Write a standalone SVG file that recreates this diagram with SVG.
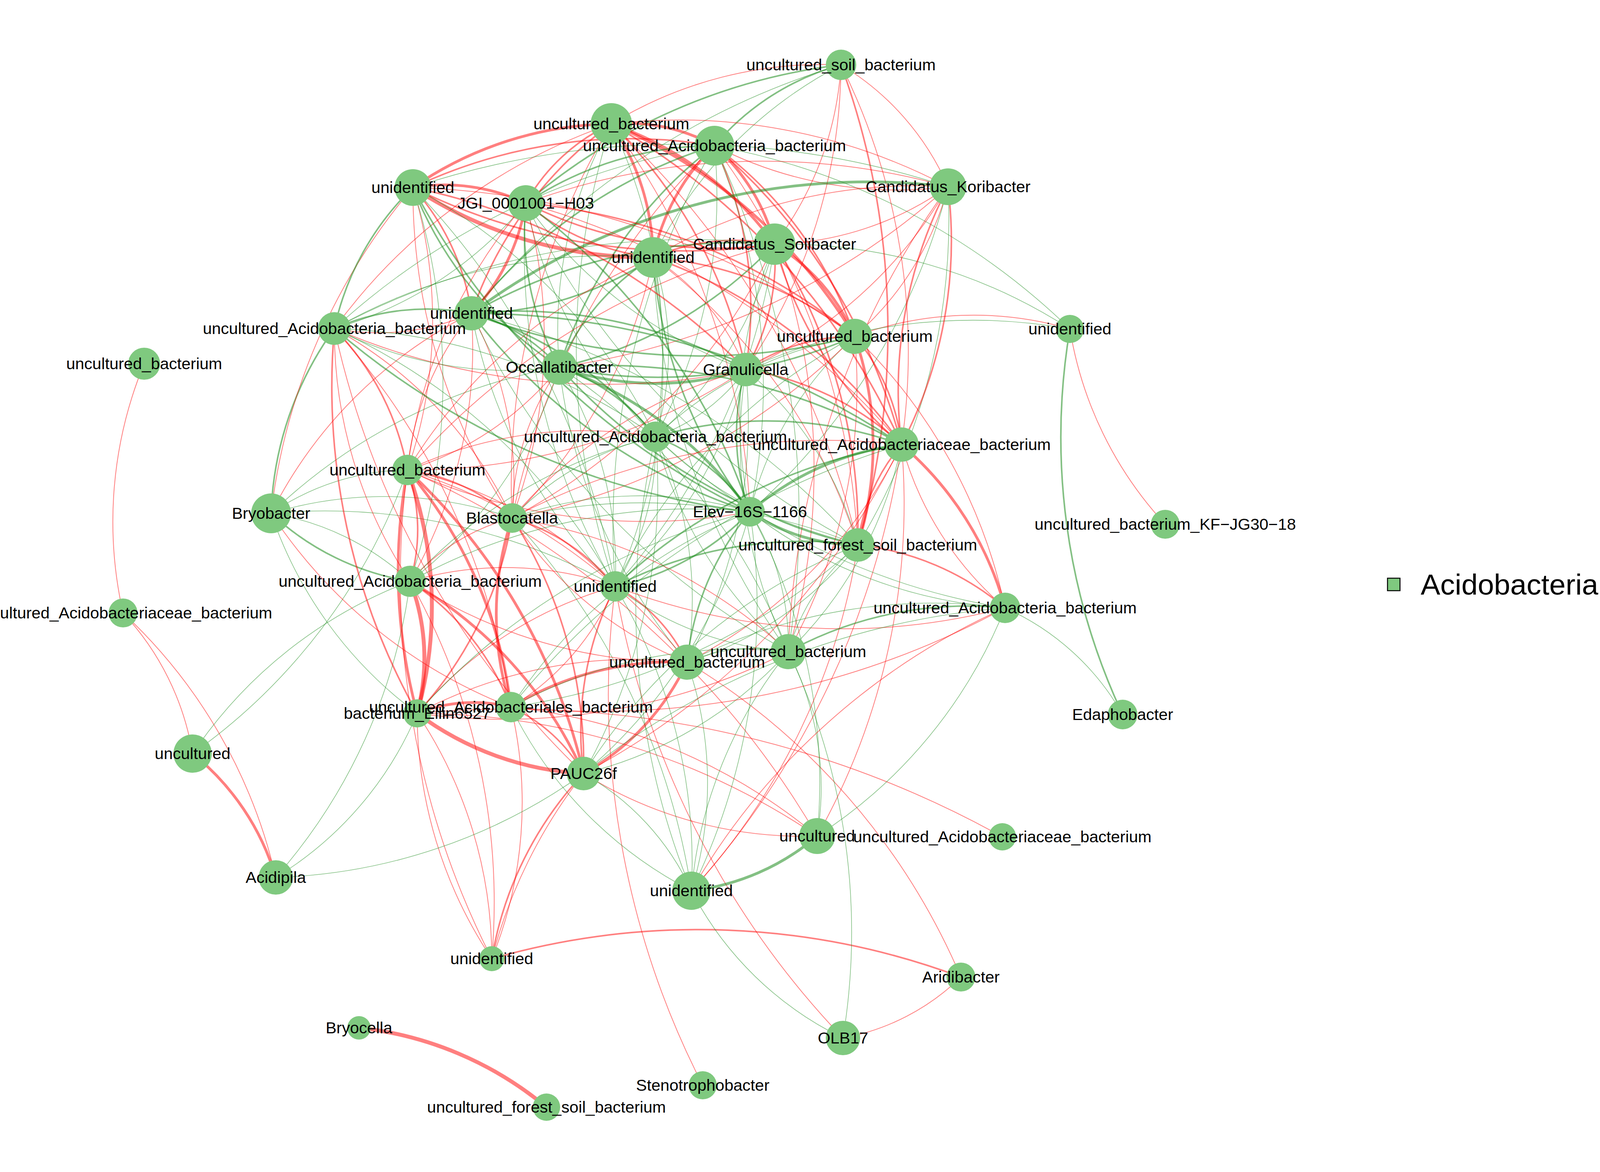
<svg xmlns="http://www.w3.org/2000/svg" width="4200" height="3000" viewBox="0 0 4200 3000">
<style>
path{fill:none;stroke-linecap:round}
.r1{stroke:#FF0000;stroke-opacity:.5;stroke-width:2}
.r2{stroke:#FF0000;stroke-opacity:.5;stroke-width:4}
.r3{stroke:#FF0000;stroke-opacity:.5;stroke-width:7}
.r4{stroke:#FF0000;stroke-opacity:.5;stroke-width:10}
.g1{stroke:#1E8C1E;stroke-opacity:.55;stroke-width:1.6}
.g2{stroke:#1E8C1E;stroke-opacity:.55;stroke-width:4}
.g3{stroke:#1E8C1E;stroke-opacity:.55;stroke-width:7}
.node circle{fill:#7FC97F}
.node text,.legend text{font-family:"Liberation Sans",Arial,sans-serif;font-size:41.5px;text-anchor:middle;fill:#000}
</style>
<rect x="0" y="0" width="4200" height="3000" fill="#FFFFFF"/>
<g id="edges">
<path class="r4" d="M919 2631 A900 900 0 0 1 1399 2834"/>
<path class="r3" d="M493 1929 A640 640 0 0 1 706 2246"/>
<path class="r1" d="M315 1569 A1330 1330 0 0 1 706 2246"/>
<path class="r1" d="M315 1569 A690 690 0 0 1 493 1929"/>
<path class="r1" d="M369 931 A1060 1060 0 0 0 315 1569"/>
<path class="g2" d="M2739 842 A1670 1670 0 0 0 2874 1829"/>
<path class="r1" d="M2739 842 A960 960 0 0 0 2983 1342"/>
<path class="r1" d="M2188 861 A880 880 0 0 1 2739 842"/>
<path class="g1" d="M1983 625 A1350 1350 0 0 1 2739 842"/>
<path class="g1" d="M1829 373 A1760 1760 0 0 1 2739 842"/>
<path class="g1" d="M1909 946 A1400 1400 0 0 1 2739 842"/>
<path class="g1" d="M2573 1556 A650 650 0 0 1 2874 1829"/>
<path class="r1" d="M2460 2501 A580 580 0 0 1 2158 2657"/>
<path class="r2" d="M1259 2454 A1920 1920 0 0 1 2460 2501"/>
<path class="r1" d="M1759 1695 A1740 1740 0 0 1 2460 2501"/>
<path class="g1" d="M2018 1668 A1670 1670 0 0 1 2158 2657"/>
<path class="g1" d="M1770 2280 A860 860 0 0 0 2158 2657"/>
<path class="r1" d="M1575 1501 A2220 2220 0 0 0 2158 2657"/>
<path class="r1" d="M1575 1501 A2190 2190 0 0 0 1799 2778"/>
<path class="g3" d="M1770 2280 A600 600 0 0 0 2092 2140"/>
<path class="r1" d="M1068 1826 A2600 2600 0 0 1 2566 2142"/>
<path class="r1" d="M1068 1826 A1840 1840 0 0 1 2092 2140"/>
<path class="r1" d="M1308 1810 A1470 1470 0 0 1 2092 2140"/>
<path class="r1" d="M1043 1203 A2280 2280 0 0 1 2092 2140"/>
<path class="g1" d="M2018 1668 A760 760 0 0 1 2092 2140"/>
<path class="g1" d="M1920 1310 A1440 1440 0 0 1 2092 2140"/>
<path class="g1" d="M2573 1556 A1240 1240 0 0 1 2092 2140"/>
<path class="r1" d="M2308 1138 A1740 1740 0 0 1 2092 2140"/>
<path class="r1" d="M1494 1980 A1060 1060 0 0 0 2092 2140"/>
<path class="g1" d="M1494 1980 A660 660 0 0 1 1770 2280"/>
<path class="g1" d="M1308 1810 A1050 1050 0 0 0 1770 2280"/>
<path class="g1" d="M1575 1501 A1370 1370 0 0 1 1770 2280"/>
<path class="g1" d="M1311 1326 A1820 1820 0 0 1 1770 2280"/>
<path class="g1" d="M1678 1118 A1920 1920 0 0 0 1770 2280"/>
<path class="g1" d="M1920 1310 A1650 1650 0 0 1 1770 2280"/>
<path class="g1" d="M1759 1695 A940 940 0 0 1 1770 2280"/>
<path class="g1" d="M2018 1668 A1140 1140 0 0 0 1770 2280"/>
<path class="r1" d="M2196 1395 A1690 1690 0 0 1 1770 2280"/>
<path class="r1" d="M2573 1556 A1750 1750 0 0 0 1770 2280"/>
<path class="r1" d="M2308 1138 A2170 2170 0 0 1 1770 2280"/>
<path class="r1" d="M1068 1826 A1130 1130 0 0 1 1259 2454"/>
<path class="r1" d="M1068 1826 A1130 1130 0 0 0 1259 2454"/>
<path class="r1" d="M1050 1488 A1680 1680 0 0 1 1259 2454"/>
<path class="r1" d="M1043 1203 A2140 2140 0 0 0 1259 2454"/>
<path class="r1" d="M1308 1810 A1060 1060 0 0 1 1259 2454"/>
<path class="r2" d="M1494 1980 A910 910 0 0 0 1259 2454"/>
<path class="r1" d="M1494 1980 A1300 1300 0 0 0 1259 2454"/>
<path class="g1" d="M1068 1826 A900 900 0 0 1 706 2246"/>
<path class="g1" d="M1050 1488 A1430 1430 0 0 1 706 2246"/>
<path class="g1" d="M706 2246 A1430 1430 0 0 0 1494 1980"/>
<path class="g1" d="M493 1929 A1170 1170 0 0 1 1050 1488"/>
<path class="g1" d="M493 1929 A1510 1510 0 0 0 1043 1203"/>
<path class="g2" d="M694 1314 A860 860 0 0 1 856 841"/>
<path class="r1" d="M694 1314 A1570 1570 0 0 1 1057 480"/>
<path class="g1" d="M694 1314 A630 630 0 0 1 1043 1203"/>
<path class="g2" d="M694 1314 A680 680 0 0 0 1050 1488"/>
<path class="g1" d="M694 1314 A680 680 0 0 1 1050 1488"/>
<path class="g1" d="M694 1314 A1060 1060 0 0 0 1068 1826"/>
<path class="g1" d="M694 1314 A1000 1000 0 0 1 1311 1326"/>
<path class="g1" d="M694 1314 A1530 1530 0 0 1 1575 1501"/>
<path class="r1" d="M694 1314 A1300 1300 0 0 0 1308 1810"/>
<path class="g1" d="M694 1314 A1420 1420 0 0 1 1432 940"/>
<path class="r1" d="M694 1314 A1150 1150 0 0 1 1207 802"/>
<path class="r1" d="M2153 166 A680 680 0 0 1 2427 478"/>
<path class="g2" d="M2153 166 A1520 1520 0 0 0 1346 520"/>
<path class="g2" d="M2153 166 A650 650 0 0 0 1829 373"/>
<path class="g1" d="M2153 166 A1100 1100 0 0 0 1672 659"/>
<path class="r2" d="M2153 166 A1990 1990 0 0 1 2196 1395"/>
<path class="r1" d="M1565 317 A1040 1040 0 0 1 2153 166"/>
<path class="r1" d="M2153 166 A840 840 0 0 1 1983 625"/>
<path class="r1" d="M2153 166 A1400 1400 0 0 1 1909 946"/>
<path class="r1" d="M2153 166 A1650 1650 0 0 1 2308 1138"/>
<path class="g1" d="M2153 166 A1920 1920 0 0 0 1207 802"/>
<path class="r3" d="M1565 317 A460 460 0 0 1 1829 373"/>
<path class="r3" d="M1565 317 A870 870 0 0 1 1983 625"/>
<path class="r3" d="M1565 317 A620 620 0 0 1 1672 659"/>
<path class="r3" d="M1565 317 A1350 1350 0 0 1 2188 861"/>
<path class="r3" d="M1057 480 A920 920 0 0 1 1565 317"/>
<path class="r2" d="M1565 317 A480 480 0 0 0 1346 520"/>
<path class="r2" d="M1565 317 A1000 1000 0 0 0 1207 802"/>
<path class="r2" d="M1565 317 A1230 1230 0 0 1 1909 946"/>
<path class="r2" d="M1565 317 A1790 1790 0 0 1 2308 1138"/>
<path class="r1" d="M1565 317 A1820 1820 0 0 1 1920 1310"/>
<path class="r1" d="M1565 317 A1480 1480 0 0 1 2427 478"/>
<path class="g1" d="M1565 317 A1350 1350 0 0 1 1678 1118"/>
<path class="g1" d="M1565 317 A1900 1900 0 0 0 1575 1501"/>
<path class="r1" d="M1565 317 A1780 1780 0 0 0 1311 1326"/>
<path class="r1" d="M1565 317 A2130 2130 0 0 1 2196 1395"/>
<path class="g1" d="M1565 317 A1080 1080 0 0 0 1432 940"/>
<path class="r1" d="M1565 317 A1470 1470 0 0 0 856 841"/>
<path class="r3" d="M1829 373 A500 500 0 0 1 1983 625"/>
<path class="r3" d="M1829 373 A560 560 0 0 0 1672 659"/>
<path class="r2" d="M1829 373 A1010 1010 0 0 1 2188 861"/>
<path class="r2" d="M1829 373 A970 970 0 0 1 1909 946"/>
<path class="g2" d="M1829 373 A870 870 0 0 0 1346 520"/>
<path class="r2" d="M1829 373 A1300 1300 0 0 0 1057 480"/>
<path class="g2" d="M1829 373 A1270 1270 0 0 0 1207 802"/>
<path class="g1" d="M1829 373 A1860 1860 0 0 0 856 841"/>
<path class="g2" d="M1829 373 A1160 1160 0 0 0 1432 940"/>
<path class="g1" d="M1829 373 A1290 1290 0 0 1 1678 1118"/>
<path class="g1" d="M1829 373 A1560 1560 0 0 1 1920 1310"/>
<path class="r1" d="M1829 373 A1870 1870 0 0 1 2196 1395"/>
<path class="g1" d="M1829 373 A1970 1970 0 0 0 1575 1501"/>
<path class="r2" d="M1829 373 A1530 1530 0 0 1 2308 1138"/>
<path class="r1" d="M1829 373 A1020 1020 0 0 0 2427 478"/>
<path class="r1" d="M1829 373 A1860 1860 0 0 0 1311 1326"/>
<path class="g1" d="M1829 373 A2190 2190 0 0 1 2018 1668"/>
<path class="g3" d="M1207 802 A1700 1700 0 0 1 2427 478"/>
<path class="r1" d="M2427 478 A800 800 0 0 1 1983 625"/>
<path class="r1" d="M2427 478 A1320 1320 0 0 0 1672 659"/>
<path class="r1" d="M2427 478 A770 770 0 0 1 2188 861"/>
<path class="r1" d="M2427 478 A1130 1130 0 0 1 1909 946"/>
<path class="g1" d="M2427 478 A1660 1660 0 0 1 1920 1310"/>
<path class="g1" d="M2427 478 A1610 1610 0 0 1 2196 1395"/>
<path class="r2" d="M2427 478 A1130 1130 0 0 1 2308 1138"/>
<path class="r2" d="M2427 478 A1130 1130 0 0 0 2308 1138"/>
<path class="r1" d="M2427 478 A2170 2170 0 0 0 2018 1668"/>
<path class="r1" d="M2427 478 A1890 1890 0 0 1 1432 940"/>
<path class="r1" d="M2427 478 A1760 1760 0 0 0 1346 520"/>
<path class="g1" d="M2427 478 A2190 2190 0 0 0 1057 480"/>
<path class="r2" d="M1983 625 A520 520 0 0 0 1672 659"/>
<path class="r3" d="M1983 625 A510 510 0 0 1 2188 861"/>
<path class="r2" d="M1983 625 A560 560 0 0 1 1909 946"/>
<path class="r2" d="M1057 480 A1570 1570 0 0 0 1983 625"/>
<path class="r2" d="M1983 625 A1090 1090 0 0 1 1346 520"/>
<path class="g2" d="M1983 625 A1360 1360 0 0 0 1207 802"/>
<path class="g1" d="M1983 625 A1940 1940 0 0 0 856 841"/>
<path class="g2" d="M1983 625 A1080 1080 0 0 1 1432 940"/>
<path class="g1" d="M1983 625 A980 980 0 0 1 1678 1118"/>
<path class="g1" d="M1983 625 A1140 1140 0 0 0 1920 1310"/>
<path class="r2" d="M1983 625 A1370 1370 0 0 1 2196 1395"/>
<path class="g1" d="M1983 625 A1660 1660 0 0 1 1575 1501"/>
<path class="r2" d="M1983 625 A1030 1030 0 0 0 2308 1138"/>
<path class="r1" d="M1983 625 A1550 1550 0 0 1 1311 1326"/>
<path class="r1" d="M1983 625 A1870 1870 0 0 0 1043 1203"/>
<path class="r1" d="M1983 625 A1690 1690 0 0 1 2018 1668"/>
<path class="r2" d="M1672 659 A960 960 0 0 1 2188 861"/>
<path class="r1" d="M1672 659 A610 610 0 0 1 1909 946"/>
<path class="r4" d="M1057 480 A1100 1100 0 0 0 1672 659"/>
<path class="r2" d="M1672 659 A610 610 0 0 1 1346 520"/>
<path class="g2" d="M1672 659 A840 840 0 0 1 1207 802"/>
<path class="g1" d="M1672 659 A1420 1420 0 0 0 856 841"/>
<path class="g2" d="M1672 659 A600 600 0 0 0 1432 940"/>
<path class="g1" d="M1672 659 A740 740 0 0 1 1678 1118"/>
<path class="g2" d="M1672 659 A1200 1200 0 0 0 1920 1310"/>
<path class="r1" d="M1672 659 A1510 1510 0 0 1 2196 1395"/>
<path class="g1" d="M1672 659 A1410 1410 0 0 1 1575 1501"/>
<path class="r2" d="M1672 659 A1320 1320 0 0 1 2308 1138"/>
<path class="r1" d="M1672 659 A1360 1360 0 0 0 1043 1203"/>
<path class="r1" d="M1672 659 A1300 1300 0 0 1 1311 1326"/>
<path class="g1" d="M1672 659 A1840 1840 0 0 0 2018 1668"/>
<path class="r2" d="M2188 861 A500 500 0 0 0 1909 946"/>
<path class="g2" d="M2188 861 A1260 1260 0 0 1 1432 940"/>
<path class="g2" d="M2188 861 A1610 1610 0 0 1 1207 802"/>
<path class="g1" d="M2188 861 A980 980 0 0 0 1678 1118"/>
<path class="g1" d="M2188 861 A890 890 0 0 0 1920 1310"/>
<path class="r3" d="M2188 861 A850 850 0 0 1 2196 1395"/>
<path class="r2" d="M2188 861 A520 520 0 0 1 2308 1138"/>
<path class="g1" d="M2188 861 A1420 1420 0 0 0 1575 1501"/>
<path class="r1" d="M2188 861 A1400 1400 0 0 1 2018 1668"/>
<path class="r1" d="M2188 861 A1360 1360 0 0 1 2573 1556"/>
<path class="r1" d="M2188 861 A2050 2050 0 0 0 1057 480"/>
<path class="r2" d="M2188 861 A1560 1560 0 0 0 1346 520"/>
<path class="r1" d="M2188 861 A1700 1700 0 0 1 1311 1326"/>
<path class="g1" d="M1909 946 A1170 1170 0 0 1 1346 520"/>
<path class="g2" d="M1909 946 A1220 1220 0 0 0 1207 802"/>
<path class="g3" d="M1909 946 A760 760 0 0 1 1432 940"/>
<path class="g1" d="M1909 946 A480 480 0 0 1 1678 1118"/>
<path class="g2" d="M1909 946 A590 590 0 0 0 1920 1310"/>
<path class="g1" d="M1909 946 A900 900 0 0 1 2196 1395"/>
<path class="r2" d="M1909 946 A760 760 0 0 1 2308 1138"/>
<path class="g1" d="M1909 946 A1100 1100 0 0 1 1575 1501"/>
<path class="g1" d="M1909 946 A1230 1230 0 0 0 2018 1668"/>
<path class="r2" d="M1909 946 A1660 1660 0 0 0 1057 480"/>
<path class="r1" d="M1909 946 A1750 1750 0 0 1 856 841"/>
<path class="r1" d="M1909 946 A1200 1200 0 0 0 1311 1326"/>
<path class="g1" d="M1909 946 A1290 1290 0 0 1 1759 1695"/>
<path class="r1" d="M1909 946 A1550 1550 0 0 1 1043 1203"/>
<path class="r3" d="M1057 480 A490 490 0 0 1 1346 520"/>
<path class="r2" d="M1057 480 A610 610 0 0 1 1207 802"/>
<path class="g2" d="M1057 480 A710 710 0 0 0 856 841"/>
<path class="g2" d="M1057 480 A980 980 0 0 0 1432 940"/>
<path class="r1" d="M1057 480 A1170 1170 0 0 1 1043 1203"/>
<path class="g1" d="M1057 480 A1420 1420 0 0 1 1678 1118"/>
<path class="g2" d="M1057 480 A1910 1910 0 0 0 1920 1310"/>
<path class="g1" d="M1057 480 A1960 1960 0 0 1 1575 1501"/>
<path class="r1" d="M1057 480 A1520 1520 0 0 0 1311 1326"/>
<path class="g1" d="M1057 480 A1620 1620 0 0 1 1050 1488"/>
<path class="r3" d="M1346 520 A540 540 0 0 1 1207 802"/>
<path class="g1" d="M1346 520 A990 990 0 0 1 856 841"/>
<path class="g2" d="M1346 520 A730 730 0 0 0 1432 940"/>
<path class="g1" d="M1346 520 A1170 1170 0 0 0 1678 1118"/>
<path class="g2" d="M1346 520 A1630 1630 0 0 1 1920 1310"/>
<path class="g1" d="M1346 520 A1720 1720 0 0 0 1575 1501"/>
<path class="r1" d="M1346 520 A1290 1290 0 0 0 1043 1203"/>
<path class="r1" d="M1346 520 A1310 1310 0 0 1 1311 1326"/>
<path class="g1" d="M1346 520 A1940 1940 0 0 0 2196 1395"/>
<path class="r1" d="M1346 520 A1930 1930 0 0 1 2308 1138"/>
<path class="g2" d="M1207 802 A590 590 0 0 0 856 841"/>
<path class="r1" d="M1207 802 A590 590 0 0 1 856 841"/>
<path class="g2" d="M1207 802 A450 450 0 0 1 1432 940"/>
<path class="g2" d="M1207 802 A960 960 0 0 1 1678 1118"/>
<path class="g2" d="M1207 802 A1470 1470 0 0 0 1920 1310"/>
<path class="g1" d="M1207 802 A1960 1960 0 0 1 2196 1395"/>
<path class="g1" d="M1207 802 A1350 1350 0 0 0 1575 1501"/>
<path class="r1" d="M1207 802 A750 750 0 0 0 1043 1203"/>
<path class="r1" d="M1207 802 A910 910 0 0 1 1311 1326"/>
<path class="r1" d="M1207 802 A1200 1200 0 0 1 1050 1488"/>
<path class="g2" d="M1207 802 A1980 1980 0 0 1 2308 1138"/>
<path class="g1" d="M1207 802 A1900 1900 0 0 0 2018 1668"/>
<path class="r2" d="M856 841 A700 700 0 0 1 1043 1203"/>
<path class="r1" d="M856 841 A1160 1160 0 0 0 1050 1488"/>
<path class="r2" d="M856 841 A1710 1710 0 0 0 1068 1826"/>
<path class="r1" d="M856 841 A1070 1070 0 0 1 1311 1326"/>
<path class="r1" d="M856 841 A1840 1840 0 0 1 1308 1810"/>
<path class="r1" d="M856 841 A2230 2230 0 0 0 1494 1980"/>
<path class="g1" d="M856 841 A990 990 0 0 0 1432 940"/>
<path class="g1" d="M856 841 A1490 1490 0 0 1 1678 1118"/>
<path class="g2" d="M856 841 A2000 2000 0 0 0 1920 1310"/>
<path class="g1" d="M856 841 A1570 1570 0 0 1 1575 1501"/>
<path class="g2" d="M1432 940 A510 510 0 0 1 1678 1118"/>
<path class="g3" d="M1432 940 A1020 1020 0 0 1 1920 1310"/>
<path class="g2" d="M1432 940 A1510 1510 0 0 0 2196 1395"/>
<path class="g1" d="M1432 940 A990 990 0 0 1 1575 1501"/>
<path class="g2" d="M1432 940 A1530 1530 0 0 1 2308 1138"/>
<path class="r1" d="M1432 940 A790 790 0 0 1 1043 1203"/>
<path class="r1" d="M1432 940 A690 690 0 0 0 1311 1326"/>
<path class="g1" d="M1432 940 A1540 1540 0 0 1 2018 1668"/>
<path class="g1" d="M1432 940 A1420 1420 0 0 0 1759 1695"/>
<path class="g1" d="M1432 940 A1120 1120 0 0 1 1050 1488"/>
<path class="r2" d="M1043 1203 A460 460 0 0 1 1050 1488"/>
<path class="r4" d="M1043 1203 A1010 1010 0 0 1 1068 1826"/>
<path class="r3" d="M1043 1203 A1400 1400 0 0 0 1068 1826"/>
<path class="r2" d="M1043 1203 A510 510 0 0 1 1311 1326"/>
<path class="r1" d="M1043 1203 A1040 1040 0 0 1 1575 1501"/>
<path class="r3" d="M1043 1203 A1140 1140 0 0 1 1308 1810"/>
<path class="r3" d="M1043 1203 A1530 1530 0 0 1 1494 1980"/>
<path class="r1" d="M1043 1203 A1460 1460 0 0 1 1759 1695"/>
<path class="r1" d="M1043 1203 A1070 1070 0 0 1 1678 1118"/>
<path class="r1" d="M1043 1203 A1470 1470 0 0 0 1920 1310"/>
<path class="r4" d="M1050 1488 A550 550 0 0 1 1068 1826"/>
<path class="r1" d="M1050 1488 A520 520 0 0 1 1311 1326"/>
<path class="r1" d="M1050 1488 A850 850 0 0 1 1575 1501"/>
<path class="r2" d="M1050 1488 A680 680 0 0 1 1308 1810"/>
<path class="r3" d="M1050 1488 A1070 1070 0 0 1 1494 1980"/>
<path class="r1" d="M1050 1488 A1270 1270 0 0 0 1759 1695"/>
<path class="g1" d="M1050 1488 A1500 1500 0 0 1 1920 1310"/>
<path class="g1" d="M1050 1488 A1240 1240 0 0 1 1678 1118"/>
<path class="r3" d="M1068 1826 A390 390 0 0 1 1308 1810"/>
<path class="r4" d="M1068 1826 A780 780 0 0 0 1494 1980"/>
<path class="r2" d="M1068 1826 A960 960 0 0 0 1311 1326"/>
<path class="r1" d="M1068 1826 A1020 1020 0 0 1 1575 1501"/>
<path class="r1" d="M1068 1826 A1190 1190 0 0 1 1759 1695"/>
<path class="g1" d="M1068 1826 A1690 1690 0 0 1 1920 1310"/>
<path class="r1" d="M1068 1826 A1620 1620 0 0 0 2018 1668"/>
<path class="g2" d="M1678 1118 A510 510 0 0 1 1920 1310"/>
<path class="g1" d="M1678 1118 A680 680 0 0 1 1575 1501"/>
<path class="g1" d="M1678 1118 A1010 1010 0 0 0 2196 1395"/>
<path class="g2" d="M1678 1118 A1020 1020 0 0 1 2308 1138"/>
<path class="g1" d="M1678 1118 A720 720 0 0 0 1311 1326"/>
<path class="g1" d="M1678 1118 A970 970 0 0 1 1759 1695"/>
<path class="g1" d="M1678 1118 A1100 1100 0 0 0 2018 1668"/>
<path class="g1" d="M1678 1118 A1500 1500 0 0 1 1494 1980"/>
<path class="g1" d="M1678 1118 A1710 1710 0 0 0 2573 1556"/>
<path class="r2" d="M1311 1326 A530 530 0 0 1 1575 1501"/>
<path class="r3" d="M1311 1326 A770 770 0 0 0 1308 1810"/>
<path class="r2" d="M1311 1326 A1160 1160 0 0 1 1494 1980"/>
<path class="g1" d="M1311 1326 A980 980 0 0 1 1920 1310"/>
<path class="r1" d="M1311 1326 A950 950 0 0 0 1759 1695"/>
<path class="g1" d="M1311 1326 A1460 1460 0 0 1 2196 1395"/>
<path class="r1" d="M1311 1326 A1350 1350 0 0 1 2018 1668"/>
<path class="r1" d="M1311 1326 A1720 1720 0 0 1 2308 1138"/>
<path class="g3" d="M1920 1310 A500 500 0 0 0 2196 1395"/>
<path class="g3" d="M1920 1310 A730 730 0 0 1 2308 1138"/>
<path class="g2" d="M1920 1310 A670 670 0 0 1 1575 1501"/>
<path class="g2" d="M1920 1310 A720 720 0 0 0 1759 1695"/>
<path class="g1" d="M1920 1310 A640 640 0 0 1 2018 1668"/>
<path class="g1" d="M1920 1310 A1200 1200 0 0 0 2573 1556"/>
<path class="g1" d="M1920 1310 A1340 1340 0 0 1 1494 1980"/>
<path class="g1" d="M1920 1310 A1300 1300 0 0 0 1308 1810"/>
<path class="r2" d="M2196 1395 A480 480 0 0 1 2308 1138"/>
<path class="r2" d="M2196 1395 A700 700 0 0 1 2573 1556"/>
<path class="g2" d="M2196 1395 A1060 1060 0 0 0 1575 1501"/>
<path class="g1" d="M2196 1395 A890 890 0 0 1 1759 1695"/>
<path class="g1" d="M2196 1395 A550 550 0 0 0 2018 1668"/>
<path class="g1" d="M2196 1395 A1690 1690 0 0 1 1308 1810"/>
<path class="g1" d="M2196 1395 A1500 1500 0 0 0 1494 1980"/>
<path class="r2" d="M1575 1501 A430 430 0 0 1 1759 1695"/>
<path class="g1" d="M1575 1501 A820 820 0 0 0 2018 1668"/>
<path class="r1" d="M1575 1501 A670 670 0 0 1 1308 1810"/>
<path class="r2" d="M1575 1501 A820 820 0 0 0 1494 1980"/>
<path class="g2" d="M1575 1501 A1400 1400 0 0 1 2308 1138"/>
<path class="r1" d="M1575 1501 A1630 1630 0 0 0 2573 1556"/>
<path class="r3" d="M1759 1695 A800 800 0 0 0 1308 1810"/>
<path class="r3" d="M1759 1695 A630 630 0 0 1 1494 1980"/>
<path class="g1" d="M1759 1695 A430 430 0 0 1 2018 1668"/>
<path class="r1" d="M1759 1695 A1240 1240 0 0 0 2308 1138"/>
<path class="g1" d="M1759 1695 A1390 1390 0 0 1 2573 1556"/>
<path class="g2" d="M2018 1668 A960 960 0 0 1 2573 1556"/>
<path class="g1" d="M2018 1668 A1030 1030 0 0 0 2308 1138"/>
<path class="g1" d="M2018 1668 A1040 1040 0 0 1 1494 1980"/>
<path class="g1" d="M2018 1668 A1230 1230 0 0 0 1308 1810"/>
<path class="r2" d="M1308 1810 A410 410 0 0 1 1494 1980"/>
<path class="g1" d="M1308 1810 A2030 2030 0 0 1 2308 1138"/>
<path class="r1" d="M1308 1810 A2190 2190 0 0 0 2573 1556"/>
<path class="g1" d="M1494 1980 A2000 2000 0 0 1 2573 1556"/>
<path class="r1" d="M1494 1980 A1890 1890 0 0 0 2308 1138"/>
<path class="r3" d="M2308 1138 A840 840 0 0 1 2573 1556"/>
<path class="r1" d="M2308 1138 A840 840 0 0 0 2573 1556"/>
</g>
<g id="nodes">
<g class="node" id="n01"><circle cx="2153" cy="166" r="39"/><text x="2153" y="180">uncultured_soil_bacterium</text></g>
<g class="node" id="n02"><circle cx="1565" cy="317" r="53"/><text x="1565" y="331">uncultured_bacterium</text></g>
<g class="node" id="n03"><circle cx="1829" cy="373" r="51"/><text x="1829" y="387">uncultured_Acidobacteria_bacterium</text></g>
<g class="node" id="n04"><circle cx="2427" cy="478" r="47"/><text x="2427" y="492">Candidatus_Koribacter</text></g>
<g class="node" id="n05"><circle cx="1983" cy="625" r="53"/><text x="1983" y="639">Candidatus_Solibacter</text></g>
<g class="node" id="n06"><circle cx="1672" cy="659" r="52"/><text x="1672" y="673">unidentified</text></g>
<g class="node" id="n07"><circle cx="2188" cy="861" r="45"/><text x="2188" y="875">uncultured_bacterium</text></g>
<g class="node" id="n08"><circle cx="2739" cy="842" r="36"/><text x="2739" y="856">unidentified</text></g>
<g class="node" id="n09"><circle cx="1909" cy="946" r="43"/><text x="1909" y="960">Granulicella</text></g>
<g class="node" id="n10"><circle cx="1057" cy="480" r="47"/><text x="1057" y="494">unidentified</text></g>
<g class="node" id="n11"><circle cx="1346" cy="520" r="46"/><text x="1346" y="534">JGI_0001001−H03</text></g>
<g class="node" id="n12"><circle cx="1207" cy="802" r="44"/><text x="1207" y="816">unidentified</text></g>
<g class="node" id="n13"><circle cx="856" cy="841" r="42"/><text x="856" y="855">uncultured_Acidobacteria_bacterium</text></g>
<g class="node" id="n14"><circle cx="369" cy="931" r="41"/><text x="369" y="945">uncultured_bacterium</text></g>
<g class="node" id="n15"><circle cx="1432" cy="940" r="45"/><text x="1432" y="954">Occallatibacter</text></g>
<g class="node" id="n16"><circle cx="1043" cy="1203" r="39"/><text x="1043" y="1217">uncultured_bacterium</text></g>
<g class="node" id="n17"><circle cx="694" cy="1314" r="51"/><text x="694" y="1328">Bryobacter</text></g>
<g class="node" id="n18"><circle cx="1050" cy="1488" r="40"/><text x="1050" y="1502">uncultured_Acidobacteria_bacterium</text></g>
<g class="node" id="n19"><circle cx="315" cy="1569" r="37"/><text x="315" y="1583">uncultured_Acidobacteriaceae_bacterium</text></g>
<g class="node" id="n20"><circle cx="1068" cy="1826" r="36"/><text x="1068" y="1840">bacterium_Ellin6527</text></g>
<g class="node" id="n21"><circle cx="493" cy="1929" r="49"/><text x="493" y="1943">uncultured</text></g>
<g class="node" id="n22"><circle cx="1678" cy="1118" r="39"/><text x="1678" y="1132">uncultured_Acidobacteria_bacterium</text></g>
<g class="node" id="n23"><circle cx="1311" cy="1326" r="38"/><text x="1311" y="1340">Blastocatella</text></g>
<g class="node" id="n24"><circle cx="1920" cy="1310" r="38"/><text x="1920" y="1324">Elev−16S−1166</text></g>
<g class="node" id="n25"><circle cx="2196" cy="1395" r="43"/><text x="2196" y="1409">uncultured_forest_soil_bacterium</text></g>
<g class="node" id="n26"><circle cx="1575" cy="1501" r="39"/><text x="1575" y="1515">unidentified</text></g>
<g class="node" id="n27"><circle cx="1759" cy="1695" r="45"/><text x="1759" y="1709">uncultured_bacterium</text></g>
<g class="node" id="n28"><circle cx="2018" cy="1668" r="45"/><text x="2018" y="1682">uncultured_bacterium</text></g>
<g class="node" id="n29"><circle cx="1308" cy="1810" r="39"/><text x="1308" y="1824">uncultured_Acidobacteriales_bacterium</text></g>
<g class="node" id="n30"><circle cx="1494" cy="1980" r="43"/><text x="1494" y="1994">PAUC26f</text></g>
<g class="node" id="n31"><circle cx="2308" cy="1138" r="44"/><text x="2308" y="1152">uncultured_Acidobacteriaceae_bacterium</text></g>
<g class="node" id="n32"><circle cx="2573" cy="1556" r="39"/><text x="2573" y="1570">uncultured_Acidobacteria_bacterium</text></g>
<g class="node" id="n33"><circle cx="2983" cy="1342" r="37"/><text x="2983" y="1356">uncultured_bacterium_KF−JG30−18</text></g>
<g class="node" id="n34"><circle cx="2874" cy="1829" r="38"/><text x="2874" y="1843">Edaphobacter</text></g>
<g class="node" id="n35"><circle cx="706" cy="2246" r="44"/><text x="706" y="2260">Acidipila</text></g>
<g class="node" id="n36"><circle cx="1770" cy="2280" r="49"/><text x="1770" y="2294">unidentified</text></g>
<g class="node" id="n37"><circle cx="2092" cy="2140" r="46"/><text x="2092" y="2154">uncultured</text></g>
<g class="node" id="n38"><circle cx="2566" cy="2142" r="35"/><text x="2566" y="2156">uncultured_Acidobacteriaceae_bacterium</text></g>
<g class="node" id="n39"><circle cx="1259" cy="2454" r="32"/><text x="1259" y="2468">unidentified</text></g>
<g class="node" id="n40"><circle cx="2460" cy="2501" r="37"/><text x="2460" y="2515">Aridibacter</text></g>
<g class="node" id="n41"><circle cx="2158" cy="2657" r="44"/><text x="2158" y="2671">OLB17</text></g>
<g class="node" id="n42"><circle cx="919" cy="2631" r="30"/><text x="919" y="2645">Bryocella</text></g>
<g class="node" id="n43"><circle cx="1399" cy="2834" r="35"/><text x="1399" y="2848">uncultured_forest_soil_bacterium</text></g>
<g class="node" id="n44"><circle cx="1799" cy="2778" r="36"/><text x="1799" y="2792">Stenotrophobacter</text></g>
</g>
<g class="legend" id="legend">
<rect x="3552" y="1480" width="32" height="32" fill="#7FC97F" stroke="#000000" stroke-width="2.5"/>
<text x="3637" y="1522" style="font-size:75px;text-anchor:start">Acidobacteria</text>
</g>
</svg>
